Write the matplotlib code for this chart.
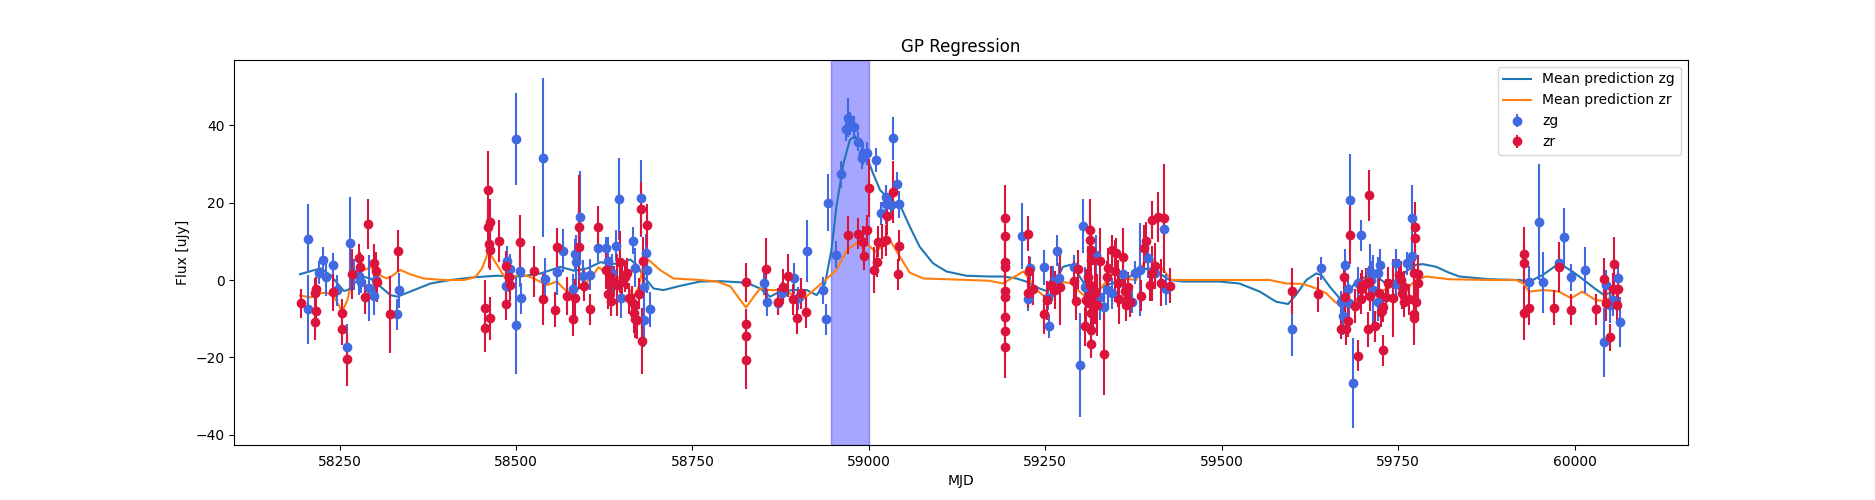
import numpy as np
import matplotlib
matplotlib.use("Agg")
import matplotlib.pyplot as plt

# zg photometry: MJD, flux [uJy], 1-sigma error
zg_mjd = [58204.7, 58205.0, 58220.7, 58226.4, 58231.0, 58240.5, 58246.7, 58260.8, 58264.6, 58270.0,
          58277.0, 58281.0, 58291.5, 58298.5, 58301.0, 58331.6, 58334.0, 58486.8, 58486.0, 58492.0,
          58499.5, 58499.5, 58506.0, 58507.0, 58537.8, 58541.6, 58558.0, 58566.1, 58580.3, 58583.0,
          58585.5, 58591.0, 58594.9, 58604.3, 58615.7, 58627.5, 58631.0, 58636.0, 58641.6, 58646.3,
          58649.2, 58665.7, 58668.0, 58677.5, 58680.8, 58681.7, 58684.5, 58685.5, 58690.2,
          58851.6, 58855.3, 58871.8, 58876.6, 58894.5, 58900.2, 58912.9, 58935.5, 58938.8, 58942.6,
          58953.5, 58961.0, 58967.6, 58971.0, 58973.3, 58979.0, 58985.0, 58989.8, 58992.0, 58997.0,
          59010.0, 59016.7, 59024.2, 59025.0, 59031.3, 59034.6, 59039.3, 59043.0,
          59217.0, 59229.0, 59225.8, 59248.4, 59255.5, 59254.0, 59261.0, 59267.3, 59269.6, 59290.4,
          59298.9, 59303.6, 59306.0, 59322.0, 59327.0, 59333.0, 59339.0, 59344.0, 59360.2, 59373.5,
          59376.7, 59384.8, 59395.6, 59406.0, 59417.8, 59421.6,
          59599.4, 59640.4, 59669.2, 59672.5, 59675.3, 59678.6, 59682.4, 59680.0, 59685.7, 59697.5,
          59693.0, 59710.3, 59711.5, 59714.0, 59721.0, 59724.4, 59721.0, 59747.0, 59747.0, 59762.6,
          59769.2, 59769.7,
          59935.8, 59950.0, 59955.6, 59977.3, 59984.4, 59994.8, 60015.0, 60042.0, 60044.3, 60050.0,
          60054.7, 60062.2, 60064.6]
zg_flux = [10.7, -7.6, 1.9, 5.1, 0.9, 3.9, -2.6, -17.4, 9.5, 1.5,
           1.1, -0.4, -2.1, -4.1, 0.0, -8.9, -2.6, 4.9, -1.5, 2.8,
           36.4, -11.7, 2.2, -4.7, 31.6, 0.3, 2.0, 7.6, -2.4, 6.6,
           4.7, 16.2, 1.1, 1.3, 8.2, 8.2, 5.0, 1.7, 8.9, 20.9,
           -4.7, 10.1, 3.2, 21.1, -1.7, -10.3, 6.9, 2.6, -7.6,
           -0.9, -5.8, -6.0, -3.4, 0.4, -4.7, 7.5, -2.6, -10.1, 20.0,
           6.5, 27.3, 38.9, 41.9, 40.4, 39.4, 35.7, 31.6, 32.7, 32.7,
           31.0, 17.2, 21.5, 19.5, 19.4, 36.6, 24.9, 19.5,
           11.4, 3.0, -4.9, 3.3, -11.9, -4.7, -0.4, 7.5, 0.4, 3.4,
           -21.9, 13.9, -1.7, 6.5, -4.3, -6.9, -2.6, -3.4, 1.5, -5.6,
           1.9, 2.6, 5.6, 1.7, 13.1, -2.4,
           -12.7, 3.0, -5.8, -9.3, 4.0, -2.4, 20.6, -6.0, -26.7, 11.6,
           -0.7, 2.4, 0.0, -2.6, 1.9, 4.0, -5.6, 4.5, -1.1, 4.3,
           15.9, 6.2,
           -0.4, 14.9, -0.6, 4.3, 11.0, 0.7, 2.6, -16.1, -1.3, -6.5,
           -5.2, 0.4, -10.9]
zg_err = [9.0, 9.0, 3.0, 3.5, 5.0, 3.0, 4.0, 6.0, 12.0, 4.0,
          5.0, 3.0, 8.5, 5.0, 4.0, 4.0, 4.5, 4.0, 4.0, 4.0,
          12.0, 12.5, 4.0, 4.0, 20.5, 5.5, 6.0, 5.5, 4.0, 4.0,
          7.0, 12.0, 4.0, 4.0, 3.5, 3.0, 6.0, 5.0, 4.0, 10.5,
          5.0, 3.5, 5.0, 10.0, 6.0, 7.0, 5.0, 6.0, 4.5,
          3.0, 3.5, 2.5, 3.0, 4.0, 3.0, 8.0, 3.5, 4.0, 7.3,
          3.5, 3.5, 3.0, 5.0, 3.0, 3.0, 2.5, 3.0, 3.0, 3.0,
          3.0, 3.0, 3.0, 5.0, 3.0, 5.5, 3.0, 3.5,
          8.5, 3.0, 3.0, 4.5, 3.0, 3.0, 4.0, 4.0, 4.0, 3.0,
          13.5, 7.0, 5.0, 5.0, 6.0, 5.0, 4.0, 4.0, 4.0, 3.0,
          3.0, 12.0, 5.0, 4.0, 3.0, 4.0,
          7.0, 3.0, 3.0, 5.0, 4.0, 4.0, 12.0, 5.0, 11.6, 4.0,
          4.0, 7.0, 5.0, 9.0, 4.0, 4.0, 5.0, 3.5, 4.0, 3.0,
          8.5, 5.0,
          4.0, 15.0, 7.8, 3.0, 7.5, 3.5, 6.0, 9.0, 4.0, 4.5,
          4.0, 4.0, 6.5]

# zr photometry
zr_mjd = [58194.8, 58214.6, 58216.0, 58216.0, 58214.6, 58240.5, 58252.8, 58252.8, 58260.0, 58267.0,
          58277.3, 58279.7, 58285.8, 58291.0, 58298.5, 58301.0, 58303.7, 58322.0, 58333.5,
          58455.7, 58455.7, 58460.4, 58460.0, 58463.7, 58462.3, 58463.7, 58463.7, 58475.5, 58485.9,
          58485.9, 58489.6, 58492.0, 58506.1,
          58525.0, 58537.8, 58554.8, 58558.0, 58572.0, 58580.3, 58583.0, 58588.8, 58590.0, 58596.0,
          58604.3, 58615.7, 58627.5, 58631.0, 58635.0, 58633.6, 58638.3, 58643.0, 58647.8, 58650.0,
          58655.0, 58657.2, 58659.5, 58664.3, 58667.5, 58669.0, 58671.3, 58675.0, 58677.5, 58678.4,
          58680.0, 58685.0, 58826.0, 58826.0, 58826.0, 58826.0,
          58854.4, 58871.8, 58879.0, 58886.0, 58893.0, 58898.7, 58903.5, 58910.5, 58971.0, 58985.0,
          58991.2, 58997.0, 58993.6, 59000.3, 59008.0, 59011.0, 59013.4, 59018.0, 59024.2, 59026.0,
          59034.6, 59043.1, 59041.7,
          59192.7, 59192.7, 59192.7, 59192.7, 59192.7, 59192.7, 59192.7, 59192.7, 59192.7,
          59225.8, 59227.0, 59225.8, 59232.0, 59248.4, 59252.6, 59257.8, 59264.4, 59271.5, 59290.9,
          59294.0, 59296.5, 59306.0, 59308.0, 59310.0, 59313.0, 59314.0, 59314.5, 59315.5, 59313.0,
          59315.5, 59315.5, 59315.5, 59318.0, 59320.0, 59323.5, 59327.0, 59332.9, 59337.6, 59339.0,
          59344.6, 59348.4, 59350.8, 59353.0, 59354.6, 59360.2, 59362.6, 59365.0, 59367.3, 59369.7,
          59386.2, 59389.5, 59392.3, 59398.0, 59401.7, 59401.7, 59406.0, 59409.8, 59414.5, 59417.8,
          59426.3,
          59599.4, 59636.2, 59673.0, 59674.0, 59669.0, 59676.3, 59678.6, 59682.4, 59689.5, 59692.8,
          59697.5, 59698.5, 59698.0, 59704.6, 59708.4, 59708.4, 59707.0, 59709.5, 59717.8, 59723.5,
          59725.8, 59728.0, 59729.0, 59733.0, 59735.3, 59742.3, 59751.8, 59754.0, 59755.5, 59759.0,
          59759.0, 59766.0, 59774.4, 59774.0, 59773.0, 59777.7, 59777.7, 59775.5, 59772.0, 59772.0,
          59928.7, 59928.7, 59928.7, 59935.8, 59970.2, 59977.3, 59994.8, 60031.0, 60042.0, 60045.2,
          60050.4, 60056.1, 60054.0, 60060.8, 60062.0]
zr_flux = [-6.0, -3.4, -2.2, -8.0, -10.9, -3.2, -8.6, -12.7, -20.5, 1.5,
           5.8, 3.3, -4.4, 14.4, 4.3, 2.3, -0.6, -8.9, 7.5,
           -7.1, -12.5, 23.2, 13.8, 14.9, 9.2, 7.7, -9.9, 10.1, 3.6,
           -6.2, 0.9, -1.3, 9.7,
           2.2, -5.0, -7.7, 8.4, -4.1, -10.1, -4.7, 13.6, 8.6, -1.5,
           -7.6, 13.6, 2.6, -3.6, -5.4, 0.9, -0.4, -1.3, 4.6, -0.4,
           0.9, 1.7, -4.7, -5.6, -8.6, -10.1, -10.3, -3.6, 18.3, -15.7,
           5.0, 14.1, -0.6, -11.4, -14.4, -20.6,
           2.8, -5.6, -1.7, 1.1, -5.0, -9.9, -3.4, -8.3, 11.6, 12.0,
           9.9, 12.9, 6.2, 23.7, 2.6, 4.7, 9.9, 9.9, 10.3, 16.5,
           22.6, 8.8, 1.5,
           15.9, 11.4, 4.6, 3.4, -2.8, -4.3, -9.5, -13.2, -17.4,
           12.0, 2.3, -3.3, -2.4, -8.9, -5.2, -1.3, -2.6, -1.7, -0.2,
           -5.4, 2.8, -12.0, -5.2, 0.9, 12.9, 10.3, 7.7, 5.2, -1.3,
           -8.6, -12.9, -16.6, -6.9, -3.4, -6.5, 4.9, -19.1, 0.9, 3.2,
           7.7, 2.3, 6.9, -0.9, -4.9, 6.0, -2.8, -6.5, -1.9, -5.6,
           -4.1, 8.2, 10.1, -1.3, 1.7, 15.5, 3.6, 16.3, -0.7, 15.9,
           -1.5,
           -2.8, -3.7, 0.7, -4.3, -12.7, -12.7, -10.6, 11.6, -6.7, -19.6,
           -2.2, -1.3, -4.9, -0.9, 21.9, -0.4, -12.7, -4.1, -11.9, -3.3,
           -8.2, -6.9, -18.1, -4.3, -0.7, -4.7, 1.3, 0.0, -3.4, -1.7,
           -5.6, -5.0, 13.6, 10.8, 1.7, 1.5, -0.9, -5.6, -8.9, -9.9,
           6.7, 4.3, -8.6, -7.1, -7.1, 3.4, -7.7, -7.6, 0.2, -6.0,
           -14.8, 4.1, -2.2, -6.5, -2.2]
zr_err = [3.7, 4.0, 3.0, 4.0, 4.7, 4.7, 3.8, 4.0, 6.9, 6.4,
          3.5, 4.0, 4.3, 6.5, 5.0, 5.0, 5.0, 10.0, 5.5,
          7.0, 6.0, 10.0, 6.0, 6.0, 6.0, 5.0, 5.5, 5.5, 4.0,
          4.0, 4.0, 4.0, 7.0,
          6.5, 6.5, 4.5, 5.0, 5.0, 4.3, 5.0, 13.5, 11.0, 4.0,
          4.0, 5.5, 5.0, 4.0, 4.0, 5.0, 4.0, 8.0, 8.0, 4.0,
          4.0, 4.0, 4.0, 4.0, 5.0, 5.0, 5.0, 4.0, 7.0, 8.5,
          6.0, 5.5, 5.0, 4.0, 4.0, 7.5,
          8.0, 3.5, 4.5, 5.5, 4.0, 4.0, 4.0, 4.0, 5.0, 4.0,
          4.0, 4.0, 3.5, 7.5, 6.0, 4.0, 4.0, 4.5, 4.0, 5.0,
          8.0, 4.0, 4.0,
          8.5, 6.0, 7.0, 6.0, 6.0, 7.0, 7.0, 7.0, 8.0,
          4.5, 4.0, 4.0, 4.0, 5.0, 5.0, 5.0, 5.0, 10.0, 5.0,
          5.0, 5.0, 5.0, 8.0, 8.0, 8.0, 6.0, 6.0, 7.0, 6.0,
          6.0, 7.0, 3.5, 5.0, 8.0, 8.0, 8.5, 10.5, 4.0, 5.0,
          4.0, 8.0, 4.0, 6.0, 6.5, 7.5, 4.5, 4.0, 4.0, 4.0,
          4.0, 6.0, 5.0, 4.0, 7.0, 5.0, 6.0, 6.5, 6.0, 14.0,
          4.5,
          6.0, 4.5, 4.0, 5.0, 2.5, 4.0, 4.0, 7.5, 4.5, 4.0,
          4.0, 4.0, 4.0, 4.0, 6.6, 4.0, 4.5, 4.0, 4.0, 4.0,
          4.0, 4.0, 4.0, 4.5, 4.0, 10.0, 4.0, 5.0, 4.0, 4.0,
          4.0, 4.0, 6.5, 6.0, 4.0, 5.0, 4.0, 5.0, 8.0, 4.0,
          7.0, 5.0, 7.0, 4.5, 4.5, 6.5, 4.0, 4.0, 5.5, 4.5,
          3.5, 7.0, 4.0, 4.0, 4.0]

# GP mean predictions
gp_zg_mjd = [58194, 58223, 58237, 58256, 58262, 58268, 58282, 58294, 58308, 58322, 58332, 58350, 58379,
             58407, 58440, 58473, 58506, 58535, 58563, 58582, 58601, 58620, 58634, 58648, 58662, 58671,
             58681, 58695, 58709, 58733, 58761, 58789, 58827, 58846, 58860, 58874, 58893, 58912, 58926,
             58938, 58947, 58954, 58964, 58973, 58980, 58987, 58997, 59006, 59016, 59030, 59044, 59058,
             59072, 59091, 59110, 59138, 59171, 59190, 59209, 59223, 59242, 59254, 59266, 59275, 59285,
             59294, 59308, 59322, 59337, 59351, 59370, 59384, 59398, 59412, 59426, 59445, 59497, 59525,
             59554, 59577, 59594, 59605, 59620, 59634, 59641, 59653, 59667, 59676, 59690, 59705, 59719,
             59733, 59747, 59761, 59775, 59785, 59804, 59822, 59837, 59879, 59922, 59936, 59955, 59978,
             59997, 60016, 60030, 60042, 60054, 60061]
gp_zg_flux = [1.5, 3.0, 1.3, -2.8, -2.6, -1.3, 0.9, 0.4, -1.7, -3.9, -4.3, -3.0, -0.9,
              0.0, 0.7, 1.1, 0.9, 1.7, 3.4, 2.4, 3.0, 4.6, 4.1, 4.3, 5.3, 3.9,
              0.9, -2.2, -2.6, -1.5, -0.4, -0.3, -0.7, -2.2, -4.3, -3.0, -2.6, -2.6, -3.9,
              -0.9, 7.7, 18.9, 30.1, 36.1, 37.2, 35.3, 31.8, 27.5, 23.2, 20.6, 19.4, 13.8,
              8.6, 4.3, 2.2, 1.1, 0.9, 0.9, 0.4, -0.4, -2.2, -3.0, 0.0, 3.4, 3.9,
              2.2, -1.7, -2.6, -1.3, -0.4, 0.9, 2.6, 3.0, 1.7, 0.0, -0.4, -0.4, -0.9,
              -3.0, -5.6, -6.2, -3.9, 0.0, 1.7, 1.3, -1.7, -4.7, -4.3, -0.4, 0.9, 0.9,
              -0.9, 0.0, 2.2, 3.9, 4.1, 3.4, 1.9, 0.9, 0.2, 0.0, -0.4, 1.3, 4.3,
              2.2, -0.4, -2.4, -3.9, -3.0, -3.4]

gp_zr_mjd = [58194, 58209, 58223, 58232, 58242, 58254, 58261, 58268, 58280, 58294, 58306, 58317, 58324,
             58336, 58350, 58369, 58398, 58426, 58442, 58452, 58460, 58466, 58475, 58485, 58494, 58506,
             58525, 58544, 58558, 58572, 58582, 58594, 58608, 58617, 58629, 58641, 58648, 58657, 58667,
             58674, 58681, 58688, 58704, 58723, 58761, 58785, 58804, 58818, 58826, 58837, 58846, 58860,
             58874, 58888, 58905, 58917, 58936, 58954, 58969, 58985, 58997, 59009, 59018, 59030, 59044,
             59058, 59077, 59110, 59171, 59190, 59219, 59228, 59238, 59249, 59259, 59273, 59287, 59301,
             59313, 59325, 59334, 59346, 59360, 59379, 59389, 59403, 59417, 59429, 59445, 59568, 59591,
             59615, 59634, 59648, 59660, 59672, 59683, 59695, 59709, 59724, 59742, 59761, 59775, 59790,
             59822, 59879, 59917, 59927, 59936, 59955, 59969, 59978, 59995, 60011, 60030, 60044, 60054,
             60061]
gp_zr_flux = [-4.0, -4.5, -3.4, -3.3, -4.3, -8.2, -5.2, 0.0, 2.2, 3.3, 1.3, 0.4, 1.0,
              2.6, 1.5, 0.4, 0.0, 0.0, 0.7, 3.0, 6.9, 6.0, 3.4, 0.4, 0.0, 1.7,
              0.4, -1.3, -0.4, -3.0, -3.0, -1.7, 0.9, 3.3, 1.7, 0.0, 0.9, -1.3, -4.3,
              -1.7, 4.3, 5.2, 2.6, 0.4, 0.0, -0.4, -1.7, -5.2, -7.1, -4.3, -2.2, -2.6,
              -2.6, -3.4, -5.3, -3.4, -0.4, 2.6, 7.7, 9.9, 9.5, 7.3, 8.6, 10.3, 6.0,
              1.9, 0.4, 0.2, -0.2, -0.9, 2.2, 0.0, -2.6, -4.3, -1.7, -0.4, -0.9, -3.4,
              -5.2, -3.0, -0.9, 1.7, 0.4, 0.0, 4.3, 5.2, 2.6, 0.0, 0.0, 0.0, -0.9,
              -1.0, -2.2, -3.4, -5.6, -6.9, -6.9, -4.3, -1.7, -3.0, -1.7, -2.6, 0.0, 0.9,
              0.2, 0.0, 0.0, -0.9, -3.0, -2.6, -2.8, -3.0, -4.7, -3.0, -5.2, -5.4, -3.9,
              -3.0]

flare_window = (58946, 59000)


def main():
    fig, ax = plt.subplots(figsize=(18.75, 5), dpi=100)

    ax.plot(gp_zg_mjd, gp_zg_flux, color='C0', label='Mean prediction zg')
    ax.plot(gp_zr_mjd, gp_zr_flux, color='C1', label='Mean prediction zr')

    ax.errorbar(zg_mjd, zg_flux, yerr=zg_err, fmt='o', color='royalblue', label='zg')
    ax.errorbar(zr_mjd, zr_flux, yerr=zr_err, fmt='o', color='crimson', label='zr')

    ax.axvspan(*flare_window, color='blue', alpha=0.35)

    ax.set_xlim(58101, 60160)
    ax.set_ylim(-42.6, 56.8)
    ax.set_xlabel('MJD')
    ax.set_ylabel('Flux [uJy]')
    ax.set_title('GP Regression')
    ax.legend(loc='upper right')

    fig.savefig('out.png')


if __name__ == "__main__":
    main()
